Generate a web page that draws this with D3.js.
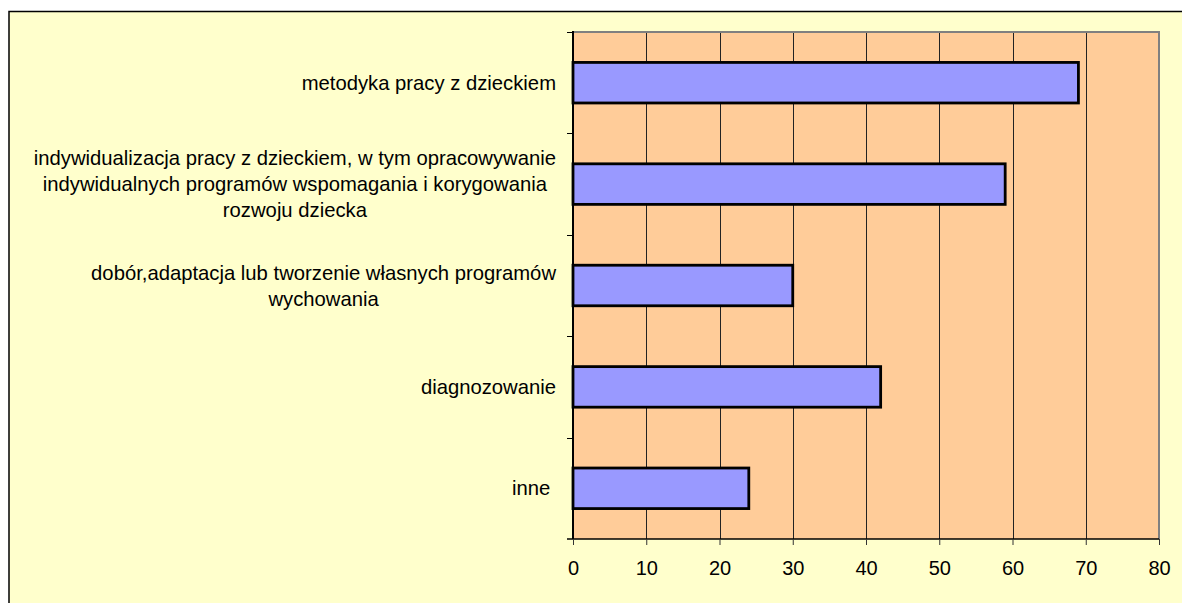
<!doctype html>
<html>
<head>
    <meta charset="utf-8">
    <title>Formy doskonalenia</title>
    <script src="https://cdnjs.cloudflare.com/ajax/libs/d3/7.8.5/d3.min.js"></script>
    <style>
        body {
            margin: 0;
            background: #ffffff;
            font-family: Arial, 'Liberation Sans', sans-serif;
        }
        .tick text {
            font-size: 20px;
            fill: #000;
        }
    </style>
</head>
<body>
    <div id="chart"></div>
    <script>
        // categories, top to bottom, each label split into its lines
        var categories = ["metodyka", "indywidualizacja", "dobor", "diagnozowanie", "inne"];
        var labelLines = [
            ["metodyka pracy z dzieckiem"],
            ["indywidualizacja pracy z dzieckiem, w tym opracowywanie",
             "indywidualnych programów wspomagania i korygowania",
             "rozwoju dziecka"],
            ["dobór,adaptacja lub tworzenie własnych programów",
             "wychowania"],
            ["diagnozowanie"],
            ["inne "]
        ];
        var values = [69, 59, 30, 42, 24];
        var xTicks = [0, 10, 20, 30, 40, 50, 60, 70, 80];

        var width = 1182, height = 603;
        var margin = { top: 32, right: 23, bottom: 64, left: 573 };

        var svg = d3.select("#chart").append("svg")
            .attr("width", width).attr("height", height);

        // outer chart area
        svg.append("rect")
            .attr("x", 9).attr("y", 11.5)
            .attr("width", width + 20).attr("height", height + 20)
            .attr("fill", "#FFFFCC")
            .attr("stroke", "#000").attr("stroke-width", 1.5);

        var x = d3.scaleLinear([0, 80], [margin.left, width - margin.right]);
        var y = d3.scaleBand(categories, [margin.top, height - margin.bottom])
            .paddingInner(0.6).paddingOuter(0.3);

        // plot area
        svg.append("rect")
            .attr("x", x(0)).attr("y", margin.top)
            .attr("width", x(80) - x(0)).attr("height", height - margin.bottom - margin.top)
            .attr("fill", "#FFCC99");

        // vertical grid lines
        svg.append("g")
            .selectAll("line")
            .data(xTicks.slice(1, -1))
            .join("line")
            .attr("x1", d => Math.round(x(d)) + 0.5).attr("x2", d => Math.round(x(d)) + 0.5)
            .attr("y1", margin.top).attr("y2", height - margin.bottom)
            .attr("stroke", "#222").attr("stroke-width", 1);

        // plot border (top, right) in gray
        svg.append("path")
            .attr("d", `M${x(0)},${margin.top}H${x(80)}V${height - margin.bottom}`)
            .attr("fill", "none")
            .attr("stroke", "#808080").attr("stroke-width", 2);

        // bars
        svg.append("g")
            .selectAll("rect")
            .data(values)
            .join("rect")
            .attr("x", x(0))
            .attr("y", (d, i) => y(categories[i]))
            .attr("width", d => x(d) - x(0))
            .attr("height", y.bandwidth())
            .attr("fill", "#9999FF")
            .attr("stroke", "#000").attr("stroke-width", 2.8);

        // x axis
        var xAxis = d3.axisBottom(x).tickValues(xTicks).tickSize(6).tickPadding(16).tickSizeOuter(0);
        svg.append("g")
            .attr("transform", `translate(0,${height - margin.bottom})`)
            .call(xAxis)
            .call(g => g.select(".domain").attr("stroke", "#000").attr("stroke-width", 1.5)
                .attr("d", `M${x(0) - 6},0H${x(80)}`))
            .call(g => g.selectAll(".tick line").attr("stroke", "#333"))
            .call(g => g.selectAll(".tick text").attr("font-family", "Arial, 'Liberation Sans', sans-serif"));

        // y axis line and ticks at category boundaries
        var step = y.step();
        var y0 = y(categories[0]) - y.paddingOuter() * step;
        var boundaries = d3.range(categories.length + 1).map(i => y0 + i * step);
        svg.append("line")
            .attr("x1", x(0)).attr("x2", x(0))
            .attr("y1", margin.top - 1).attr("y2", height - margin.bottom)
            .attr("stroke", "#000").attr("stroke-width", 2);
        svg.append("g")
            .selectAll("line")
            .data(boundaries.slice(0, -1))
            .join("line")
            .attr("x1", x(0) - 6).attr("x2", x(0))
            .attr("y1", d => Math.round(d) + 0.5).attr("y2", d => Math.round(d) + 0.5)
            .attr("stroke", "#000").attr("stroke-width", 1);

        // category labels: block right-aligned to axis, lines centered in block
        var lineH = 26;
        var labels = svg.append("g")
            .attr("font-size", 20.25)
            .attr("font-family", "Arial, 'Liberation Sans', sans-serif")
            .attr("fill", "#000");
        labelLines.forEach(function (lines, i) {
            var g = labels.append("g");
            var texts = g.selectAll("text")
                .data(lines)
                .join("text")
                .attr("text-anchor", "middle")
                .attr("y", (d, j) => y(categories[i]) + y.bandwidth() / 2 + (j - (lines.length - 1) / 2) * lineH)
                .attr("dy", "0.35em")
                .attr("xml:space", "preserve")
                .text(d => d);
            var maxW = d3.max(texts.nodes(), n => n.getComputedTextLength());
            texts.attr("x", x(0) - 17 - maxW / 2);
        });
    </script>
</body>
</html>
